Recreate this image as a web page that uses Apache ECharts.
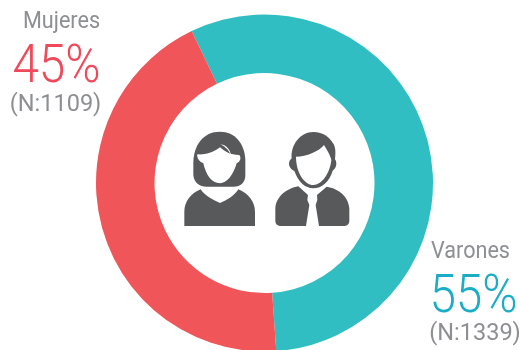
<!DOCTYPE html>
<html><head><meta charset="utf-8">
<style>html,body{margin:0;padding:0;background:#fff}#c{width:520px;height:350px}</style>
<script src="https://cdn.jsdelivr.net/npm/echarts@6/dist/echarts.min.js"></script></head>
<body><div id="c"></div>
<script>
const categories = ['Varones','Mujeres'];
const arcValues = [56, 44];
const percentLabels = ['55%','45%'];
const countLabels = ['(N:1339)','(N:1109)'];
const colors = ['#30BEC2','#EF5559'];
const gray = '#8E8F92', dark='#58595B';
const font = '"Roboto","Liberation Sans",sans-serif';
const chart = echarts.init(document.getElementById('c'),null,{renderer:'canvas'});
function txt(x,y,t,size,color,sx,w){
  return {type:'text',x:x,y:y,scaleX:sx,
    style:{text:t,font:w+' '+size+'px '+font,fill:color,align:'center',verticalAlign:'middle'}};
}
const woman = {hair:'M150 65C100 65 70 105 70 160L70 195C72 218 88 230 110 230L190 230C212 230 226 218 226 195L226 150C224 100 195 65 150 65Z',
 face:'M82 133C100 135 128 130 150 112C165 125 180 135 208 135C214 142 212 155 200 160C190 195 170 220 150 220C125 220 108 195 100 160C88 155 80 145 82 133Z',
 streak:'M152 103C170 105 182 120 184 140C178 122 168 112 152 103Z',
 body:'M92 238C105 258 130 270 150 279C172 270 192 258 205 238C235 250 255 275 255 305L255 348L43 348L43 305C43 275 62 250 92 238Z'};
const man = {hair:'M430 66C460 66 478 82 488 98C498 110 497 130 495 148C502 158 500 175 488 182C478 215 455 235 430 235C405 235 385 215 373 183C358 178 350 158 365 145C362 105 390 66 430 66Z',
 face:'M378 140C410 140 445 125 462 105C475 125 482 140 484 150C480 190 455 225 430 225C405 225 378 190 378 140Z',
 left:'M385 229L414 255L412 270L418 285L408 348L330 348C322 348 316 342 316 334L316 295C318 260 350 235 385 229Z',
 right:'M470 230C505 235 536 260 538 295L538 334C538 342 532 348 524 348L447 348L437 285L442 270L441 255Z'};
function path(d,fill){return {type:'path',shape:{pathData:d},style:{fill:fill}};}
const iconParts = [[woman.hair,dark],[woman.face,'#fff'],[woman.streak,'#fff'],[woman.body,dark],
  [man.hair,dark],[man.face,'#fff'],[man.left,dark],[man.right,dark]];
chart.setOption({
  animation:false,
  backgroundColor:'#fff',
  xAxis:{show:false,type:'value'},yAxis:{show:false,type:'value'},
  series:[{type:'pie',center:[264.5,183],radius:[110,168.5],startAngle:115.6,clockwise:true,
    label:{show:false},labelLine:{show:false},silent:true,
    data:categories.map((c,i)=>({name:c,value:arcValues[i],itemStyle:{color:colors[i]}}))},
    {type:'custom',coordinateSystem:'none',silent:true,data:[0],z:5,
     renderItem:function(){return {type:'group',x:170,y:110,scaleX:1/3,scaleY:1/3,
       children:iconParts.map(p=>path(p[0],p[1]))};}}],
  graphic:[
    txt(61.5,22,categories[1],24,gray,0.9,400),
    txt(56.5,69,percentLabels[1],53,'#F0495B',0.9,300),
    txt(55.5,105,countLabels[1],24,gray,0.98,400),
    txt(470.5,252,categories[0],24,gray,0.9,400),
    txt(473.5,299,percentLabels[0],53,'#1BADC5',0.9,300),
    txt(475,334,countLabels[0],24,gray,0.98,400)
  ]
});
</script></body></html>
